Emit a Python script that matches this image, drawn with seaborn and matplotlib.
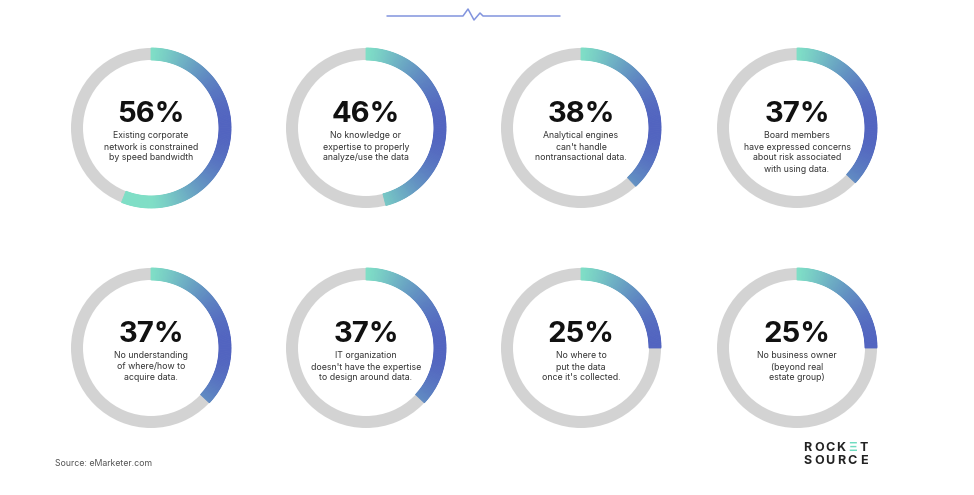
import numpy as np
import matplotlib
matplotlib.use("Agg")
import matplotlib.pyplot as plt
from matplotlib.patches import Wedge
import seaborn as sns

# survey numbers
percents = [56, 46, 38, 37, 37, 37, 25, 25]
captions = [
    ["Existing corporate", "network is constrained", "by speed bandwidth"],
    ["No knowledge or", "expertise to properly", "analyze/use the data"],
    ["Analytical engines", "can't handle", "nontransactional data."],
    ["Board members", "have expressed concerns", "about risk associated", "with using data."],
    ["No understanding", "of where/how to", "acquire data."],
    ["IT organization", "doesn't have the expertise", "to design around data."],
    ["No where to", "put the data", "once it's collected."],
    ["No business owner", "(beyond real", "estate group)"],
]

sns.set_theme(style="white")
plt.rcParams["font.family"] = ["Inter", "DejaVu Sans"]

TEAL = "#7fdfc6"
BLUE = "#5264c0"
GREY = "#d3d3d3"
grad = sns.blend_palette([TEAL, BLUE], n_colors=101)

W, H = 974, 495
fig = plt.figure(figsize=(W / 100, H / 100), dpi=100)
ax = fig.add_axes([0, 0, 1, 1])
ax.set_xlim(0, W)
ax.set_ylim(H, 0)
ax.axis("off")

col_x = [151, 366, 581, 797]
row_y = [128, 348]
r_out = 80
ring = 12

for i, (p, lines) in enumerate(zip(percents, captions)):
    cx = col_x[i % 4]
    cy = row_y[i // 4]
    ax.add_patch(Wedge((cx, cy), r_out, 0, 360, width=ring, color=GREY, lw=0))
    # coloured arc, clockwise from the top, shaded left->right
    span = p / 100 * 360
    angles = np.linspace(270, 270 + span, int(span) + 2)
    for a0, a1 in zip(angles[:-1], angles[1:]):
        xm = np.cos(np.radians((a0 + a1) / 2))
        t = int(round(np.clip(xm, 0, 1) ** 1.2 * 100))
        ax.add_patch(Wedge((cx, cy), r_out, a0, a1, width=ring,
                           facecolor=grad[t], edgecolor=grad[t], lw=0.6))
    ax.text(cx, cy - 13, f"{p}%", ha="center", va="center",
            fontsize=21, fontweight="bold", color="#111111")
    for k, ln in enumerate(lines):
        ax.text(cx, cy + 8 + k * 11, ln, ha="center", va="center",
                fontsize=6.3, color="#333333")

# decorative line at top
lx = [387, 463, 468, 474, 480, 483, 560]
ly = [16, 16, 9, 20, 13, 16, 16]
ax.plot(lx, ly, color="#8294de", lw=1.1)

ax.text(55, 463, "Source: eMarketer.com", ha="left", va="center",
        fontsize=6.3, color="#555555")

# logo
for row, word in enumerate(["ROCKET", "SOURCE"]):
    for j, ch in enumerate(word):
        c = "#222222"
        if row == 0 and ch == "E":
            ch, c = "\u039e", "#6fdcc0"
        ax.text(807.5 + j * 11.2, 448 + row * 13, ch, ha="center", va="center",
                fontsize=9, fontweight="bold", color=c)

fig.savefig("out.png", dpi=100)
